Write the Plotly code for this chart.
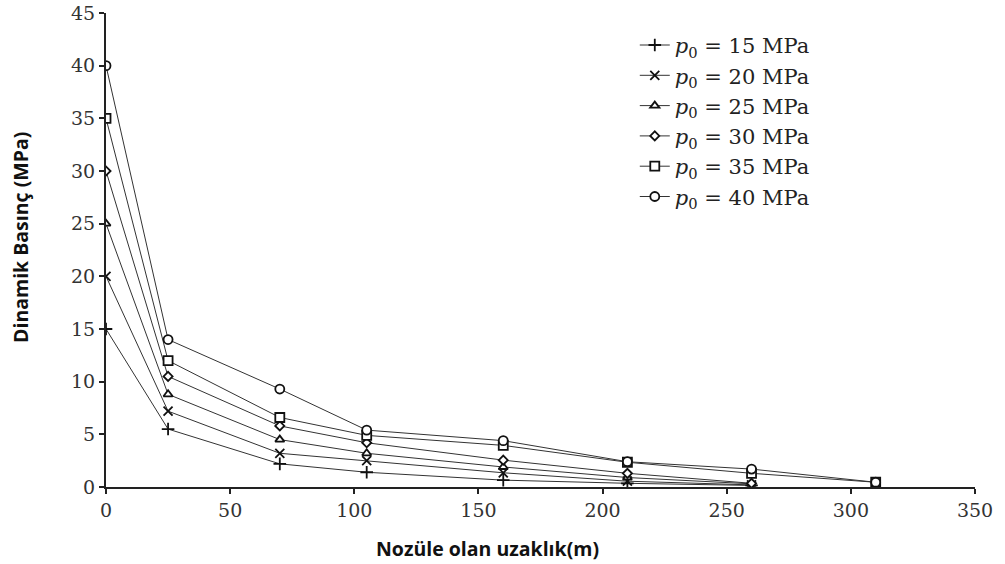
import plotly.graph_objects as go

distance = [0, 25, 70, 105, 160, 210, 260, 310]
labels = ["15", "20", "25", "30", "35", "40"]
p15 = [15, 5.5, 2.2, 1.4, 0.65, 0.35, 0.15]
p20 = [20, 7.2, 3.2, 2.5, 1.35, 0.55, 0.2]
p25 = [25, 8.8, 4.5, 3.2, 1.9, 0.9, 0.3]
p30 = [30, 10.5, 5.8, 4.2, 2.55, 1.3, 0.35]
p35 = [35, 12.0, 6.6, 4.9, 3.95, 2.35, 1.3, 0.45]
p40 = [40, 14.0, 9.3, 5.4, 4.4, 2.4, 1.7, 0.45]
series = [p15, p20, p25, p30, p35, p40]
symbols = ["cross-thin", "x-thin", "triangle-up", "diamond", "square", "circle"]
sizes = [9, 9, 8, 7, 9, 9]

fig = go.Figure()
for lab, vals, sym, sz in zip(labels, series, symbols, sizes):
    fig.add_trace(go.Scatter(
        x=distance[:len(vals)], y=vals, mode="lines+markers",
        name=f"<i>p</i><sub>0</sub> = {lab} MPa",
        line=dict(color="#333333", width=1),
        marker=dict(symbol=sym, size=sz, color="white",
                    line=dict(color="#111111", width=1.8)),
    ))

fig.update_layout(
    width=1005, height=564,
    margin=dict(l=106, r=30, t=13, b=77),
    paper_bgcolor="white", plot_bgcolor="white",
    showlegend=True,
    legend=dict(x=0.6085, y=0.975, xanchor="left", yanchor="top",
                font=dict(family="DejaVu Serif", size=21, color="#222222"),
                bgcolor="rgba(0,0,0,0)", tracegroupgap=0, itemwidth=30),
    xaxis=dict(range=[0, 350], tickvals=[0, 50, 100, 150, 200, 250, 300, 350],
               automargin=False, ticklabeloverflow="allow",
               showgrid=False, zeroline=False, showline=True, linecolor="#222222", linewidth=2,
               ticks="outside", ticklen=5, tickwidth=2, tickcolor="#222222",
               tickfont=dict(family="DejaVu Serif", size=19, color="#333333")),
    yaxis=dict(range=[0, 45], tickvals=list(range(0, 50, 5)),
               automargin=False, ticklabeloverflow="allow",
               showgrid=False, zeroline=False, showline=True, linecolor="#222222", linewidth=2,
               ticks="outside", ticklen=5, tickwidth=2, tickcolor="#222222",
               tickfont=dict(family="DejaVu Serif", size=19, color="#333333")),
    annotations=[
        dict(text="<b>Nozüle olan uzaklık(m)</b>", xref="paper", yref="paper",
             x=0.5, y=0, xanchor="center", yanchor="middle", xshift=-53, yshift=-61,
             showarrow=False, font=dict(family="Open Sans", size=19.5, color="#111111")),
        dict(text="<b>Dinamik Basınç (MPa)</b>", xref="paper", yref="paper",
             x=0, y=0.5, xanchor="center", yanchor="middle", xshift=-86, yshift=12,
             textangle=-90,
             showarrow=False, font=dict(family="Open Sans", size=19.5, color="#111111")),
    ],
)

fig.write_html("out.html", config={"displayModeBar": False},
               post_script="document.body.style.margin='0';")
